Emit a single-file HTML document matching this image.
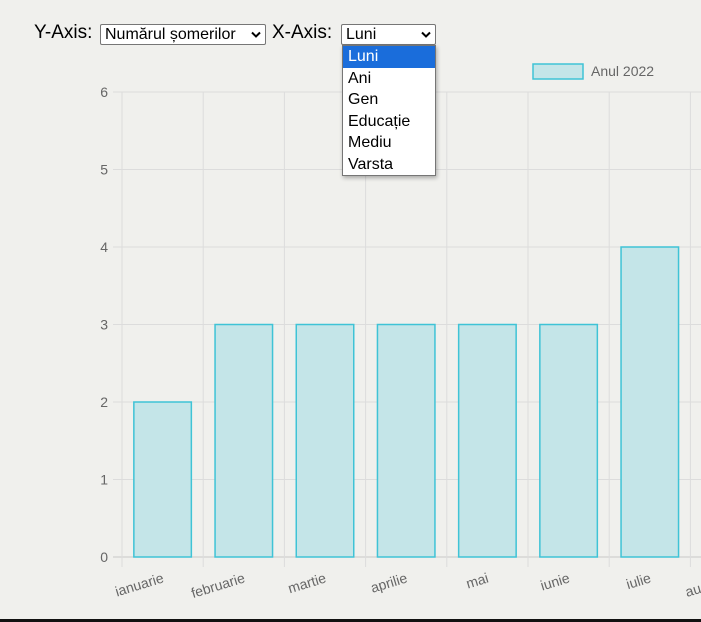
<!DOCTYPE html>
<html><head><meta charset="utf-8"><style>
body{margin:0;width:701px;height:622px;overflow:hidden;background:#f0f0ed;font-family:"Liberation Sans",sans-serif;position:relative}
.lbl{position:absolute;font-size:19px;color:#000;top:22px}
.sel{position:absolute;top:24px;height:21px;border:1px solid #767676;background:#fff;font-size:16px;line-height:20px;padding-left:4px;box-sizing:border-box;border-radius:2px}
.sel svg{position:absolute;right:4px;top:6px}
#list{position:absolute;left:342px;top:45px;width:94px;height:131px;background:#fff;border:1px solid #767676;box-sizing:border-box;box-shadow:1px 2px 4px rgba(0,0,0,.3);font-size:16px}
#list div{height:21.5px;line-height:21px;padding-left:5px}
#bottom{position:absolute;left:0;top:619px;width:701px;height:3px;background:#111}
</style></head><body>
<div class="lbl" style="left:34px">Y-Axis:</div>
<div class="sel" style="left:100px;width:166px">Numărul șomerilor<svg width="10" height="8"><path d="M1 1.5 L5 5.5 L9 1.5" stroke="#000" stroke-width="2" fill="none"/></svg></div>
<div class="lbl" style="left:272px">X-Axis:</div>
<div class="sel" style="left:341px;width:95px">Luni<svg width="10" height="8"><path d="M1 1.5 L5 5.5 L9 1.5" stroke="#000" stroke-width="2" fill="none"/></svg></div>
<svg id="chart" width="701" height="622" style="position:absolute;left:0;top:0"></svg>
<div id="list">
<div style="background:#1a6ddb;color:#fff">Luni</div>
<div>Ani</div>
<div>Gen</div>
<div>Educație</div>
<div>Mediu</div>
<div>Varsta</div>
</div>
<div id="bottom"></div>
<script>
const categories=["ianuarie","februarie","martie","aprilie","mai","iunie","iulie","august"];
const values=[2,3,3,3,3,3,4,3];
const yTicks=[0,1,2,3,4,5,6];
const NS="http://www.w3.org/2000/svg";
const svg=document.getElementById('chart');
const x0=122,step=81.2,y0=557,yTop=92,yMax=6;
const xs=i=>x0+step*i;
const ys=v=>y0-(y0-yTop)*v/yMax;
function mk(t,a){const e=document.createElementNS(NS,t);for(const k in a)e.setAttribute(k,a[k]);svg.appendChild(e);return e;}
yTicks.forEach(t=>{
 const l=mk('line',{x1:113,x2:701,y1:ys(t),y2:ys(t),stroke:t===0?'#c8c8c8':'#dcdcdc','stroke-width':1});
 
 
 const tx=mk('text',{x:108,y:ys(t)+5,'text-anchor':'end','font-size':14,fill:'#666','font-family':'Liberation Sans'});
 tx.textContent=t;
 
 
});
for(let i=0;i<=categories.length;i++){
 const l=mk('line',{x1:xs(i),x2:xs(i),y1:yTop,y2:567,stroke:'#dcdcdc','stroke-width':1});
 
 
}
categories.forEach((c,i)=>{
 const cx=xs(i)+step/2,bw=57.5;
 const r=mk('rect',{x:cx-bw/2,y:ys(values[i]),width:bw,height:y0-ys(values[i]),fill:'#c4e5e8',stroke:'#3fc3d6','stroke-width':1.5});
 
 
 const ax=cx+2, ay=582;
 const t=mk('text',{x:ax,y:ay,'text-anchor':'end','font-size':14,fill:'#666','font-family':'Liberation Sans',transform:`rotate(-17 ${ax} ${ay})`});
 if(i===categories.length-1){t.setAttribute('text-anchor','start');t.setAttribute('x',687);t.setAttribute('y',597);t.setAttribute('transform','rotate(-17 687 597)');}
 t.textContent=c;
 
 
});
const lg=mk('rect',{x:533,y:64,width:50,height:15,fill:'#c4e5e8',stroke:'#3fc3d6','stroke-width':1.5});


const lt=mk('text',{x:591,y:76,'font-size':14,fill:'#666','font-family':'Liberation Sans'});
lt.textContent='Anul 2022';


</script>
</body></html>
